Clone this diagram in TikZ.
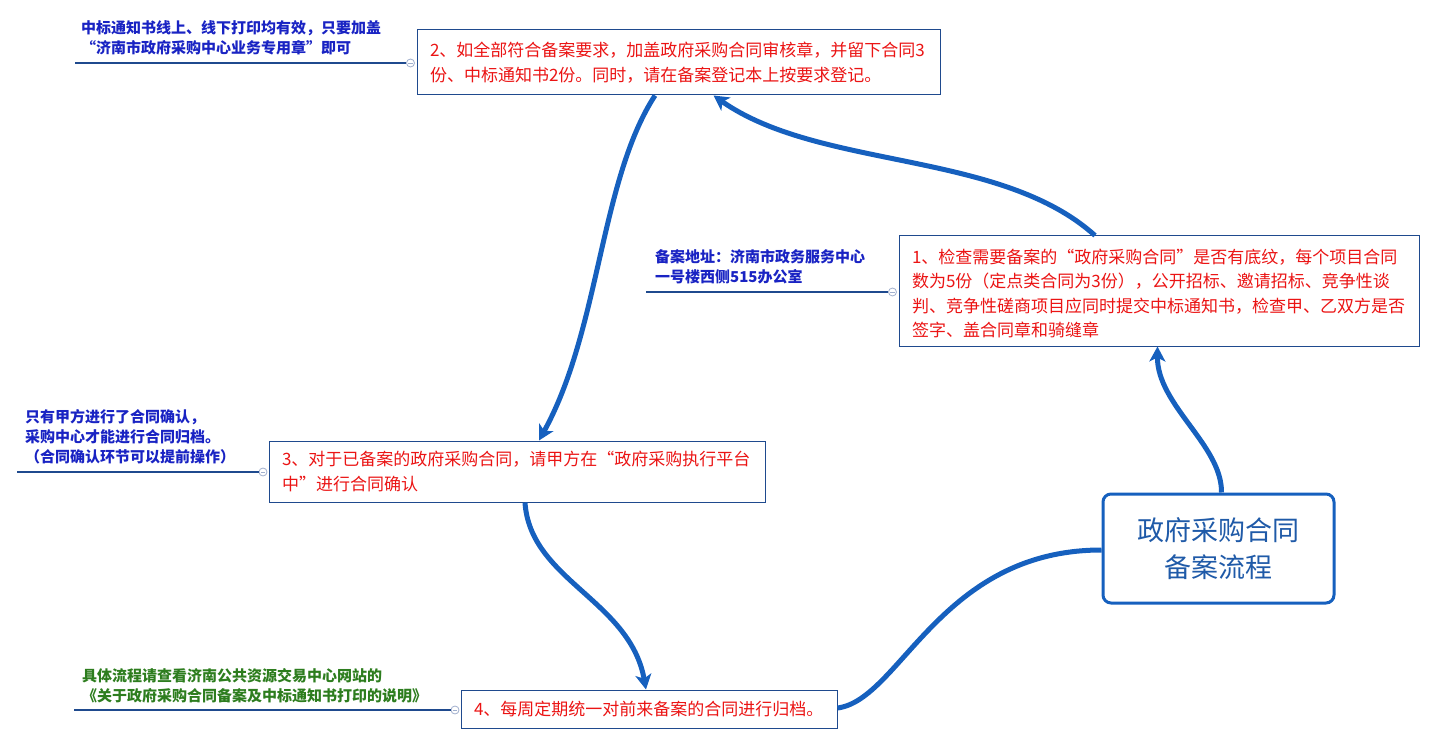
\documentclass[tikz,border=0pt]{standalone}
\usepackage{fontspec}
\setmainfont{Noto Sans CJK SC}
\usetikzlibrary{arrows.meta}
\definecolor{navy}{RGB}{31,74,142}
\definecolor{flowblue}{RGB}{22,96,190}
\definecolor{stepred}{RGB}{235,20,20}
\definecolor{noteblue}{RGB}{25,35,195}
\definecolor{notegreen}{RGB}{45,125,30}
\definecolor{titleblue}{RGB}{31,90,168}
\definecolor{markgray}{RGB}{160,175,205}
\tikzset{
  stepbox/.style={draw=navy, line width=1pt, fill=white, text=stepred, align=left,
    inner xsep=13pt, inner ysep=0pt, font=\fontsize{17pt}{24.5pt}\selectfont},
  centerbox/.style={draw=flowblue, line width=3pt, rounded corners=8pt, fill=white,
    text=titleblue, align=center, font=\fontsize{27pt}{37pt}\selectfont,
    minimum width=231pt, minimum height=109pt},
  notetext/.style={anchor=west, align=left, inner sep=0pt, text=noteblue,
    font=\fontsize{15pt}{20pt}\selectfont\bfseries},
  uline/.style={draw=navy, line width=1.1pt},
  collapse/.style={circle, draw=markgray, fill=white, line width=0.8pt, minimum size=8pt,
    inner sep=0pt, path picture={\draw[markgray, line width=0.7pt]
      ([xshift=-2.2pt]path picture bounding box.center) -- ([xshift=2.2pt]path picture bounding box.center);}},
  flow/.style={draw=flowblue, line width=5pt},
  flowarrow/.style={flow, -{Stealth[length=15pt, width=16pt, inset=4pt]}}
}
\begin{document}
\begin{tikzpicture}[x=1pt, y=-1pt]
\useasboundingbox (0,0) rectangle (1436,746);

% main step boxes
\node[stepbox, text width=497pt, minimum height=65pt] (b2) at (678.5,62.5)
  {2、如全部符合备案要求，加盖政府采购合同审核章，并留下合同3\\份、中标通知书2份。同时，请在备案登记本上按要求登记。};
\node[stepbox, text width=494pt, minimum height=110pt] (b1) at (1159,291)
  {\rule{0pt}{19pt}1、检查需要备案的“政府采购合同”是否有底纹，每个项目合同\\数为5份（定点类合同为3份），公开招标、邀请招标、竞争性谈\\判、竞争性磋商项目应同时提交中标通知书，检查甲、乙双方是否\\签字、盖合同章和骑缝章};
\node[stepbox, text width=470pt, minimum height=61pt] (b3) at (517,471.5)
  {3、对于已备案的政府采购合同，请甲方在“政府采购执行平台\\中”进行合同确认};
\node[stepbox, text width=350pt, minimum height=38pt] (b4) at (649,709)
  {4、每周定期统一对前来备案的合同进行归档。};
\node[centerbox] (c) at (1218.5,548.5) {政府采购合同\\备案流程};

% notes
\node[notetext] (n2) at (81,38) {中标通知书线上、线下打印均有效，只要加盖\\“济南市政府采购中心业务专用章”即可};
\node[notetext] (n1) at (655,267) {备案地址：济南市政务服务中心\\一号楼西侧515办公室};
\node[notetext] (n3) at (25,437) {只有甲方进行了合同确认，\\采购中心才能进行合同归档。\\（合同确认环节可以提前操作）};
\node[notetext, text=notegreen] (n4) at (82,686) {具体流程请查看济南公共资源交易中心网站的\\《关于政府采购合同备案及中标通知书打印的说明》};

% underlines with collapse markers
\node[collapse] (k2) at (410.5,63) {};
\node[collapse] (k1) at (892.5,292) {};
\node[collapse] (k3) at (263,472) {};
\node[collapse] (k4) at (455,710) {};
\coordinate (u2) at (75,63);
\coordinate (u1) at (646,292);
\coordinate (u3) at (17,472);
\coordinate (u4) at (74,710);
\draw[uline] (u2) -- (k2);
\draw[uline] (u1) -- (k1);
\draw[uline] (u3) -- (k3);
\draw[uline] (u4) -- (k4);

% flow connectors
\draw[flowarrow] ([xshift=3pt]c.north) .. controls (1222,445) and (1157,405) .. ([xshift=-1.5pt]b1.south);
\draw[flowarrow] ([xshift=-64pt]b1.north) .. controls (1000,150) and (820,170) .. ([xshift=35pt]b2.south);
\draw[flowarrow] ([xshift=-23.5pt]b2.south) .. controls (600,180) and (600,330) .. ([xshift=22pt]b3.north);
\draw[flowarrow] ([xshift=8pt]b3.south) .. controls (530,580) and (630,600) .. ([xshift=-3pt]b4.north);
\draw[flow] ([yshift=1pt]b4.east) .. controls (900,700) and (940,550) .. ([yshift=-1.5pt]c.west);
\end{tikzpicture}
\end{document}
